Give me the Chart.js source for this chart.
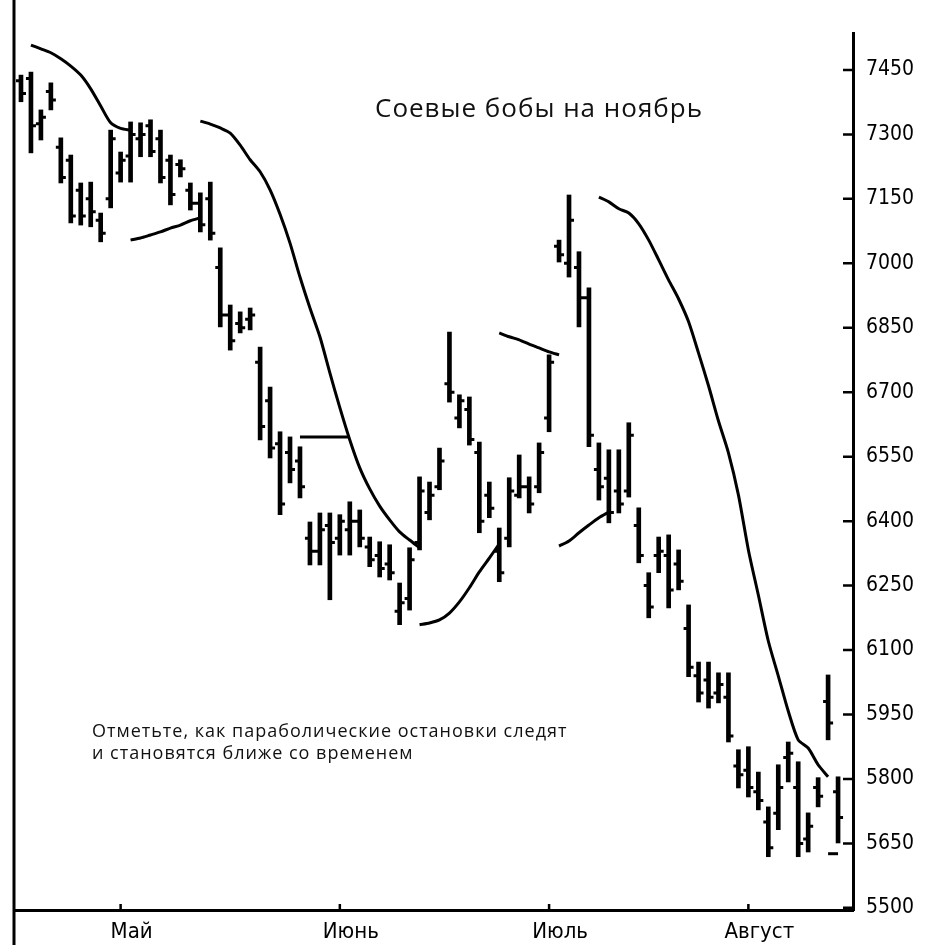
<!DOCTYPE html>
<html lang="ru">
<head>
<meta charset="utf-8">
<title>Соевые бобы на ноябрь</title>
<script src="https://cdn.jsdelivr.net/npm/chart.js@4.4.1/dist/chart.umd.min.js"></script>
<style>
  html, body { margin: 0; padding: 0; background: #fff; }
  #wrap { position: relative; width: 936px; height: 945px; }
  #grafico { display: block; }
  .titulo { position: absolute; left: 375px; top: 89px; font: 26px "Open Sans", sans-serif; letter-spacing: 1px; color: #111; white-space: nowrap; }
  .nota { position: absolute; left: 92px; top: 719px; font: 18px/22px "Open Sans", sans-serif; letter-spacing: 1px; color: #111; white-space: nowrap; }
</style>
</head>
<body>
<div id="wrap">
  <canvas id="grafico" width="936" height="945"></canvas>
  <div class="titulo">Соевые бобы на ноябрь</div>
  <div class="nota">Отметьте, как параболические остановки следят<br>и становятся ближе со временем</div>
</div>
<script>
// Barras diarias (indice = dia de operacion)
const highs = [7438, 7445, 7357, 7420, 7292, 7252, 7187, 7189, 7117, 7310,
  7259, 7329, 7327, 7334, 7310, 7252, 7241, 7187, 7164, 7189,
  7036, 6903, 6887, 6896, 6805, 6712, 6608, 6596, 6573, 6398,
  6419, 6419, 6415, 6445, 6426, 6363, 6352, 6345, 6256, 6338,
  6503, 6491, 6570, 6840, 6694, 6689, 6584, 6491, 6384, 6501,
  6554, 6503, 6582, 6787, 7054, 7159, 7027, 6943, 6582, 6566,
  6566, 6629, 6431, 6280, 6363, 6368, 6333, 6205, 6072, 6072,
  6047, 6047, 5868, 5875, 5816, 5735, 5833, 5886, 5840, 5721,
  5803, 6042, 5805];
const lows = [7376, 7257, 7287, 7357, 7187, 7094, 7089, 7085, 7050, 7129,
  7189, 7189, 7248, 7248, 7187, 7136, 7201, 7124, 7073, 7054,
  6852, 6798, 6838, 6845, 6589, 6547, 6415, 6489, 6454, 6298,
  6298, 6217, 6321, 6321, 6340, 6294, 6270, 6263, 6159, 6193,
  6333, 6403, 6473, 6677, 6617, 6577, 6373, 6408, 6259, 6340,
  6454, 6419, 6466, 6608, 7003, 6968, 6852, 6573, 6449, 6396,
  6419, 6456, 6303, 6175, 6280, 6198, 6240, 6038, 5979, 5965,
  5977, 5886, 5779, 5758, 5728, 5619, 5682, 5793, 5619, 5630,
  5735, 5891, 5651];
const opens = [7425, 7430, 7325, 7400, 7270, 7240, 7170, 7150, 7100, 7150,
  7210, 7250, 7290, 7320, 7290, 7240, 7230, 7170, 7140, 7150,
  6990, 6880, 6860, 6870, 6770, 6680, 6580, 6560, 6540, 6360,
  6330, 6390, 6360, 6380, 6400, 6340, 6320, 6300, 6190, 6220,
  6350, 6420, 6480, 6720, 6640, 6660, 6560, 6460, 6330, 6360,
  6460, 6480, 6480, 6640, 7040, 7000, 6990, 6920, 6520, 6500,
  6470, 6470, 6390, 6250, 6320, 6320, 6300, 6150, 6040, 6030,
  6000, 5990, 5830, 5820, 5770, 5700, 5720, 5850, 5780, 5660,
  5780, 5980, 5770];
const closes = [7395, 7320, 7340, 7380, 7200, 7110, 7110, 7120, 7070, 7290,
  7240, 7300, 7300, 7260, 7200, 7160, 7220, 7140, 7090, 7070,
  6880, 6820, 6850, 6880, 6620, 6570, 6440, 6520, 6480, 6330,
  6380, 6350, 6400, 6400, 6360, 6310, 6290, 6280, 6210, 6310,
  6470, 6460, 6540, 6700, 6680, 6590, 6400, 6430, 6280, 6470,
  6480, 6440, 6560, 6770, 7020, 7100, 6920, 6600, 6480, 6420,
  6440, 6600, 6320, 6200, 6330, 6240, 6260, 6060, 6000, 5990,
  6020, 5900, 5810, 5780, 5750, 5640, 5780, 5860, 5650, 5690,
  5760, 5930, 5710];

// Parabolic SAR por tramos: dia inicial de cada tramo y sus valores
const sarStarts = [1, 11, 18, 40, 48, 54, 58, 81];
const sar1 = [7508, 7499, 7490, 7476, 7459, 7438, 7406, 7366, 7327, 7314, 7310];
const sar2 = [7054, 7059, 7066, 7073, 7082, 7089, 7099, 7106];
const sar3 = [7331, 7324, 7315, 7303, 7275, 7241, 7213, 7171, 7114, 7047,
  6968, 6896, 6829, 6745, 6664, 6589, 6524, 6475, 6435, 6403, 6375, 6356, 6338];
const sar4 = [6159, 6163, 6170, 6186, 6212, 6245, 6282, 6314, 6347];
const sar5 = [6838, 6829, 6822, 6812, 6803, 6794, 6787];
const sar6 = [6342, 6354, 6373, 6391, 6408, 6421];
const sar7 = [7154, 7143, 7127, 7117, 7092, 7054, 7008, 6961, 6917, 6864,
  6791, 6715, 6633, 6559, 6461, 6333, 6228, 6121, 6040, 5958, 5891, 5872, 5833, 5805];
const sar8 = [5626, 5626];
const sarTramos = [sar1, sar2, sar3, sar4, sar5, sar6, sar7, sar8];

// Linea horizontal de stop
const nivelDias = [28, 33];
const nivelValor = 6596;

// Ejes
const meses = ['Май', 'Июнь', 'Июль', 'Август'];
const inicioMes = [10, 32, 53, 73];
const precios = [5500, 5650, 5800, 5950, 6100, 6250, 6400, 6550, 6700, 6850, 7000, 7150, 7300, 7450];

const familia = '"Liberation Sans Narrow", "DejaVu Sans Condensed", "Arial Narrow", sans-serif';

const datasets = [{
  type: 'bar',
  data: highs.map((h, i) => ({ x: i, y: [lows[i], h] })),
  backgroundColor: '#000',
  barThickness: 4,
  grouped: false
}];

sarTramos.forEach((tramo, k) => {
  datasets.push({
    type: 'line',
    data: tramo.map((v, j) => ({ x: sarStarts[k] + j, y: v })),
    borderColor: '#000',
    borderWidth: 3,
    pointRadius: 0,
    tension: 0.25
  });
});

datasets.push({
  type: 'line',
  data: nivelDias.map(d => ({ x: d, y: nivelValor })),
  borderColor: '#000',
  borderWidth: 3,
  pointRadius: 0
});

// Marcas de apertura/cierre, ticks internos de los ejes y marco izquierdo
const marcas = {
  id: 'marcas',
  afterDatasetsDraw(chart) {
    const { ctx, chartArea } = chart;
    const x = chart.scales.x;
    const y = chart.scales.y;
    ctx.save();
    ctx.strokeStyle = '#000';
    ctx.lineWidth = 3;
    ctx.beginPath();
    for (let i = 0; i < highs.length; i++) {
      const px = x.getPixelForValue(i);
      const yo = y.getPixelForValue(opens[i]);
      const yc = y.getPixelForValue(closes[i]);
      ctx.moveTo(px - 5, yo);
      ctx.lineTo(px, yo);
      ctx.moveTo(px, yc);
      ctx.lineTo(px + 5, yc);
    }
    ctx.stroke();

    ctx.lineWidth = 2.5;
    ctx.beginPath();
    precios.forEach(p => {
      const py = y.getPixelForValue(p);
      ctx.moveTo(chartArea.right - 10, py);
      ctx.lineTo(chartArea.right, py);
    });
    inicioMes.forEach(d => {
      const px = x.getPixelForValue(d);
      ctx.moveTo(px, chartArea.bottom);
      ctx.lineTo(px, chartArea.bottom - 6);
    });
    ctx.stroke();

    ctx.lineWidth = 3;
    ctx.beginPath();
    ctx.moveTo(chartArea.left, 0);
    ctx.lineTo(chartArea.left, chart.height);
    ctx.stroke();
    ctx.restore();
  }
};

const ctx = document.getElementById('grafico').getContext('2d');
new Chart(ctx, {
  data: { datasets: datasets },
  plugins: [marcas],
  options: {
    responsive: false,
    animation: false,
    layout: { padding: { top: 33, left: 14, right: 0, bottom: 0 } },
    plugins: {
      legend: { display: false },
      tooltip: { enabled: false }
    },
    scales: {
      x: {
        type: 'linear',
        min: -0.7,
        max: 83.5,
        offset: false,
        grid: { display: false, drawTicks: false },
        border: { display: true, color: '#000', width: 3 },
        ticks: {
          color: '#000',
          font: { family: familia, size: 22 },
          padding: 9,
          labelOffset: 11,
          maxRotation: 0,
          autoSkip: false,
          callback: (v, i) => meses[i]
        },
        afterBuildTicks: s => { s.ticks = inicioMes.map(v => ({ value: v })); },
        afterFit: s => { s.height = 35; }
      },
      y: {
        position: 'right',
        min: 5495,
        max: 7536,
        beginAtZero: false,
        grid: { display: false, drawTicks: false },
        border: { display: true, color: '#000', width: 3 },
        ticks: {
          color: '#000',
          font: { family: familia, size: 21 },
          padding: 13,
          crossAlign: 'center',
          callback: v => String(v)
        },
        afterBuildTicks: s => { s.ticks = precios.map(v => ({ value: v })); },
        afterFit: s => { s.width = 83; }
      }
    }
  }
});
</script>
</body>
</html>
